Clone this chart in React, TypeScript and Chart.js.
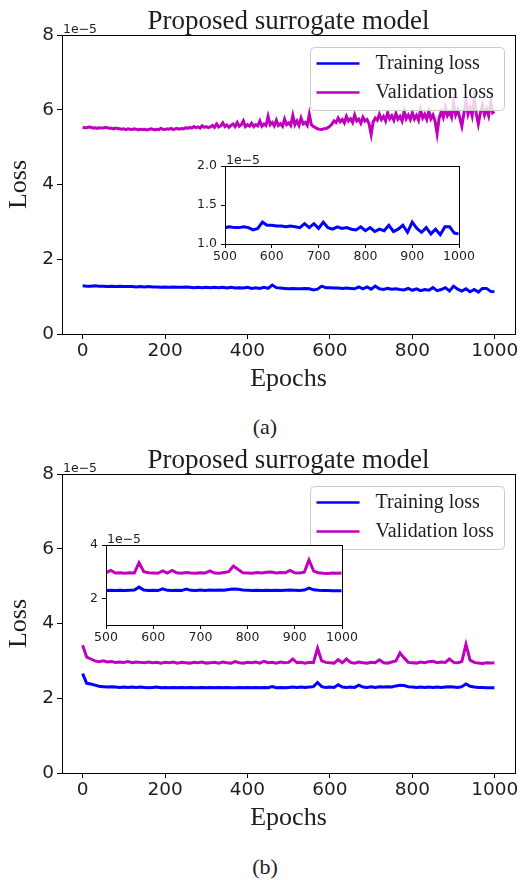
import React, { useEffect, useRef } from 'react';
import { Chart, registerables } from 'chart.js';

Chart.register(...registerables);

// ---------- data (loss values in units of 1e-5) ----------
const epochs = [
  0, 10, 20, 30, 40, 50, 60, 70, 80, 90,
  100, 110, 120, 130, 140, 150, 160, 170, 180, 190,
  200, 210, 220, 230, 240, 250, 260, 270, 280, 290,
  300, 310, 320, 330, 340, 350, 360, 370, 380, 390,
  400, 410, 420, 430, 440, 450, 460, 470, 480, 490,
  500, 510, 520, 530, 540, 550, 560, 570, 580, 590,
  600, 610, 620, 630, 640, 650, 660, 670, 680, 690,
  700, 710, 720, 730, 740, 750, 760, 770, 780, 790,
  800, 810, 820, 830, 840, 850, 860, 870, 880, 890,
  900, 910, 920, 930, 940, 950, 960, 970, 980, 990,
  999,
];

// finer epoch grid used for the noisy validation curve of panel (a)
const epochsFine = [
  0, 5, 10, 15, 20, 25, 30, 35, 40, 45,
  50, 55, 60, 65, 70, 75, 80, 85, 90, 95,
  100, 105, 110, 115, 120, 125, 130, 135, 140, 145,
  150, 155, 160, 165, 170, 175, 180, 185, 190, 195,
  200, 205, 210, 215, 220, 225, 230, 235, 240, 245,
  250, 255, 260, 265, 270, 275, 280, 285, 290, 295,
  300, 305, 310, 315, 320, 325, 330, 335, 340, 345,
  350, 355, 360, 365, 370, 375, 380, 385, 390, 395,
  400, 405, 410, 415, 420, 425, 430, 435, 440, 445,
  450, 455, 460, 465, 470, 475, 480, 485, 490, 495,
  500, 505, 510, 515, 520, 525, 530, 535, 540, 545,
  550, 555, 560, 565, 570, 575, 580, 585, 590, 595,
  600, 605, 610, 615, 620, 625, 630, 635, 640, 645,
  650, 655, 660, 665, 670, 675, 680, 685, 690, 695,
  700, 705, 710, 715, 720, 725, 730, 735, 740, 745,
  750, 755, 760, 765, 770, 775, 780, 785, 790, 795,
  800, 805, 810, 815, 820, 825, 830, 835, 840, 845,
  850, 855, 860, 865, 870, 875, 880, 885, 890, 895,
  900, 905, 910, 915, 920, 925, 930, 935, 940, 945,
  950, 955, 960, 965, 970, 975, 980, 985, 990, 995,
  999,
];

const trainLossA = [
  1.29, 1.28, 1.28, 1.29, 1.28, 1.28, 1.27, 1.28, 1.27, 1.28,
  1.27, 1.27, 1.27, 1.26, 1.27, 1.26, 1.27, 1.26, 1.26, 1.25,
  1.26, 1.25, 1.26, 1.25, 1.25, 1.26, 1.25, 1.24, 1.25, 1.24,
  1.25, 1.24, 1.25, 1.24, 1.25, 1.23, 1.25, 1.23, 1.24, 1.23,
  1.25, 1.22, 1.24, 1.22, 1.25, 1.22, 1.31, 1.24, 1.23, 1.22,
  1.21, 1.22, 1.21, 1.21, 1.22, 1.21, 1.18, 1.20, 1.28, 1.24,
  1.24, 1.23, 1.23, 1.22, 1.23, 1.22, 1.21, 1.26, 1.21, 1.26,
  1.20, 1.28, 1.21, 1.19, 1.22, 1.20, 1.21, 1.19, 1.18, 1.22,
  1.17, 1.21, 1.16, 1.19, 1.17, 1.24, 1.16, 1.19, 1.24, 1.15,
  1.28, 1.20, 1.15, 1.21, 1.13, 1.19, 1.12, 1.22, 1.22, 1.14,
  1.13,
];

const valLossA = [
  5.53, 5.52, 5.52, 5.54, 5.53, 5.51, 5.52, 5.50, 5.52, 5.51,
  5.51, 5.53, 5.52, 5.50, 5.51, 5.49, 5.51, 5.50, 5.49, 5.48,
  5.49, 5.47, 5.49, 5.48, 5.47, 5.49, 5.48, 5.46, 5.48, 5.47,
  5.48, 5.46, 5.47, 5.49, 5.48, 5.46, 5.48, 5.47, 5.50, 5.48,
  5.47, 5.49, 5.48, 5.50, 5.47, 5.49, 5.50, 5.48, 5.50, 5.49,
  5.52, 5.50, 5.53, 5.51, 5.55, 5.52, 5.54, 5.51, 5.57, 5.53,
  5.55, 5.52, 5.54, 5.58, 5.53, 5.62, 5.54, 5.57, 5.65, 5.55,
  5.59, 5.53, 5.58, 5.62, 5.55, 5.66, 5.56, 5.60, 5.70, 5.55,
  5.60, 5.56, 5.64, 5.55, 5.60, 5.57, 5.70, 5.56, 5.62, 5.58,
  5.82, 5.60, 5.66, 5.57, 5.72, 5.58, 5.63, 5.56, 5.75, 5.60,
  5.65, 5.58, 5.85, 5.60, 5.70, 5.58, 5.78, 5.62, 5.66, 5.58,
  5.88, 5.60, 5.55, 5.52, 5.49, 5.48, 5.47, 5.49, 5.50, 5.52,
  5.56, 5.62, 5.70, 5.66, 5.78, 5.68, 5.74, 5.65, 5.82, 5.70,
  5.76, 5.66, 5.86, 5.70, 5.75, 5.64, 5.80, 5.70, 5.74, 5.62,
  5.34, 5.68, 5.78, 5.72, 5.88, 5.74, 5.82, 5.70, 5.92, 5.76,
  5.84, 5.72, 5.90, 5.75, 5.82, 5.70, 5.96, 5.76, 5.86, 5.74,
  5.92, 5.75, 5.85, 5.72, 6.00, 5.78, 5.88, 5.74, 5.96, 5.76,
  5.86, 5.70, 5.36, 5.78, 5.95, 5.80, 6.06, 5.84, 5.94, 5.80,
  6.18, 5.86, 6.00, 5.78, 5.56, 5.90, 6.22, 5.88, 6.05, 5.84,
  6.28, 5.90, 5.62, 5.92, 6.12, 5.86, 6.02, 5.84, 6.20, 5.92,
  5.95,
];

const trainLossB = [
  2.66, 2.40, 2.38, 2.35, 2.32, 2.31, 2.30, 2.31, 2.30, 2.29,
  2.30, 2.29, 2.30, 2.29, 2.30, 2.29, 2.28, 2.29, 2.30, 2.28,
  2.29, 2.28, 2.29, 2.28, 2.29, 2.28, 2.29, 2.28, 2.28, 2.29,
  2.28, 2.29, 2.28, 2.29, 2.28, 2.29, 2.28, 2.28, 2.29, 2.28,
  2.29, 2.28, 2.29, 2.28, 2.29, 2.28, 2.31, 2.28, 2.29, 2.28,
  2.29, 2.30, 2.29, 2.30, 2.29, 2.30, 2.31, 2.42, 2.31, 2.29,
  2.30, 2.29, 2.36, 2.30, 2.29, 2.30, 2.29, 2.35, 2.30, 2.29,
  2.31, 2.29, 2.31, 2.30, 2.31, 2.30, 2.33, 2.35, 2.34, 2.31,
  2.30, 2.29, 2.30, 2.29, 2.30, 2.29, 2.30, 2.29, 2.30, 2.31,
  2.30, 2.29, 2.31, 2.38, 2.32, 2.30, 2.29, 2.29, 2.28, 2.28,
  2.28,
];

const valLossB = [
  3.42, 3.10, 3.05, 3.00, 2.98, 3.00, 2.97, 2.98, 2.96, 2.97,
  2.96, 2.98, 2.95, 2.97, 2.96, 2.95, 2.97, 2.95, 2.96, 2.94,
  2.96, 2.95, 2.97, 2.94, 2.96, 2.95, 2.94, 2.96, 2.95, 2.97,
  2.94, 2.95, 2.96, 2.94, 2.97, 2.95, 2.94, 2.98, 2.95, 2.94,
  2.96, 2.95, 2.97, 2.94, 2.99, 2.95, 2.96, 2.94, 2.97, 2.95,
  2.96, 3.05, 2.95, 2.96, 2.94, 2.96, 2.95, 3.34, 3.00, 2.96,
  2.95, 2.94, 3.03, 2.95, 3.05, 2.96, 2.94, 2.97, 2.95, 2.94,
  2.96, 2.95, 3.03, 2.95, 2.94, 2.97, 3.00, 3.21, 3.08, 2.96,
  2.95, 2.94, 2.97, 2.95, 2.98, 2.99, 2.95, 2.97, 2.96, 3.05,
  2.96, 2.95, 2.98, 3.44, 3.02, 2.96, 2.94, 2.93, 2.95, 2.94,
  2.95,
];

const seriesLabels = ['Training loss', 'Validation loss'];
const chartTitle = 'Proposed surrogate model';
const xAxisTitle = 'Epochs';
const yAxisTitle = 'Loss';
const offsetLabel = '1e\u22125';
const panelLabels = ['(a)', '(b)'];

const mainXTicks = [0, 200, 400, 600, 800, 1000];
const mainYTicks = [0, 2, 4, 6, 8];
const insetXTicks = [500, 600, 700, 800, 900, 1000];
const insetYTicksA = [1.0, 1.5, 2.0];
const insetYTicksB = [2, 4];

// ---------- styling ----------
const SANS = "'DejaVu Sans', sans-serif";
const SERIF = "'Liberation Serif', 'Times New Roman', serif";
const INK = '#1e1e1e';
const TRAIN_COLOR = '#0000ff';
const VAL_COLOR = '#bf00bf';

const toPoints = (xs: number[], ys: number[]) => xs.map((x, i) => ({ x, y: ys[i] }));

const framePlugin = {
  id: 'frame',
  beforeDraw(chart: any, _args: any, opts: any) {
    if (!opts.fill) return;
    const { left, top, right, bottom } = chart.chartArea;
    const ctx = chart.ctx;
    ctx.save();
    ctx.fillStyle = '#ffffff';
    ctx.fillRect(left, top, right - left, bottom - top);
    ctx.restore();
  },
  afterDatasetsDraw(chart: any) {
    const { left, top, right, bottom } = chart.chartArea;
    const ctx = chart.ctx;
    ctx.save();
    ctx.strokeStyle = '#000000';
    ctx.lineWidth = 1;
    const l = Math.round(left) + 0.5;
    const t = Math.round(top) + 0.5;
    const r = Math.round(right) + 0.5;
    const b = Math.round(bottom) + 0.5;
    ctx.strokeRect(l, t, r - l, b - t);
    ctx.restore();
  },
  afterDraw(chart: any, _args: any, opts: any) {
    const { left, top, right } = chart.chartArea;
    const ctx = chart.ctx;
    ctx.save();
    // title centred over the plotting area
    if (opts.title) {
      ctx.fillStyle = INK;
      ctx.font = `27px ${SERIF}`;
      ctx.textAlign = 'center';
      ctx.textBaseline = 'alphabetic';
      ctx.fillText(opts.title, (left + right) / 2, top - 6.5);
    }
    // offset text (1e-5)
    ctx.fillStyle = INK;
    ctx.font = `${opts.offsetSize || 12.5}px ${SANS}`;
    ctx.textAlign = 'left';
    ctx.textBaseline = 'alphabetic';
    ctx.fillText(offsetLabel, left + 1, top - 2);
    if (opts.legend) {
      const bw = 194;
      const bh = 63;
      const bx = Math.round(right - 11 - bw) + 0.5;
      const by = Math.round(top + 12) + 0.5;
      const rr = 4;
      ctx.beginPath();
      ctx.moveTo(bx + rr, by);
      ctx.lineTo(bx + bw - rr, by);
      ctx.arcTo(bx + bw, by, bx + bw, by + rr, rr);
      ctx.lineTo(bx + bw, by + bh - rr);
      ctx.arcTo(bx + bw, by + bh, bx + bw - rr, by + bh, rr);
      ctx.lineTo(bx + rr, by + bh);
      ctx.arcTo(bx, by + bh, bx, by + bh - rr, rr);
      ctx.lineTo(bx, by + rr);
      ctx.arcTo(bx, by, bx + rr, by, rr);
      ctx.closePath();
      ctx.fillStyle = 'rgba(255,255,255,0.8)';
      ctx.fill();
      ctx.strokeStyle = '#cccccc';
      ctx.lineWidth = 1;
      ctx.stroke();
      chart.data.datasets.forEach((ds: any, i: number) => {
        const y = by + 16 + i * 29;
        ctx.beginPath();
        ctx.moveTo(bx + 6, y);
        ctx.lineTo(bx + 49, y);
        ctx.strokeStyle = ds.borderColor;
        ctx.lineWidth = 2.5;
        ctx.stroke();
        ctx.fillStyle = INK;
        ctx.font = `20px ${SERIF}`;
        ctx.textAlign = 'left';
        ctx.textBaseline = 'middle';
        ctx.fillText(ds.label, bx + 65, y + 0.5);
      });
    }
    ctx.restore();
  },
};

function datasets(train: number[], val: number[], valXs: number[], width: number) {
  return [
    {
      label: seriesLabels[0],
      data: toPoints(epochs, train),
      borderColor: TRAIN_COLOR,
      backgroundColor: TRAIN_COLOR,
      borderWidth: width,
      pointRadius: 0,
      tension: 0,
    },
    {
      label: seriesLabels[1],
      data: toPoints(valXs, val),
      borderColor: VAL_COLOR,
      backgroundColor: VAL_COLOR,
      borderWidth: width,
      pointRadius: 0,
      tension: 0,
    },
  ];
}

function mainConfig(train: number[], val: number[], valXs: number[]) {
  return {
    type: 'line',
    data: { datasets: datasets(train, val, valXs, 3) },
    plugins: [framePlugin],
    options: {
      responsive: false,
      animation: false,
      events: [],
      layout: { padding: { left: 0, right: 13, top: 35, bottom: 0 } },
      plugins: {
        legend: { display: false },
        tooltip: { enabled: false },
        title: { display: false },
        frame: { legend: true, fill: false, offsetSize: 12.5, title: chartTitle },
      },
      scales: {
        x: {
          type: 'linear',
          min: -50,
          max: 1049,
          afterBuildTicks: (s: any) => {
            s.ticks = mainXTicks.map((v) => ({ value: v }));
          },
          afterFit: (s: any) => {
            s.height = 66;
            s.paddingLeft = 0;
            s.paddingRight = 0;
          },
          ticks: {
            autoSkip: false,
            maxRotation: 0,
            padding: 1,
            color: INK,
            font: { family: SANS, size: 18.5 },
            callback: (v: any) => String(v),
          },
          grid: { drawOnChartArea: false, drawTicks: true, tickLength: 5, color: '#000' },
          border: { display: false },
          title: {
            display: true,
            text: xAxisTitle,
            color: INK,
            font: { family: SERIF, size: 26, lineHeight: 1.2 },
            padding: { top: 0, bottom: 5 },
          },
        },
        y: {
          type: 'linear',
          min: 0,
          max: 8,
          afterBuildTicks: (s: any) => {
            s.ticks = mainYTicks.map((v) => ({ value: v }));
          },
          afterFit: (s: any) => {
            s.width = 62;
            s.paddingTop = 0;
            s.paddingBottom = 0;
          },
          ticks: {
            autoSkip: false,
            padding: 3,
            color: INK,
            font: { family: SANS, size: 18.5 },
            callback: (v: any) => String(v),
          },
          grid: { drawOnChartArea: false, drawTicks: true, tickLength: 5, color: '#000' },
          border: { display: false },
          title: {
            display: true,
            text: yAxisTitle,
            color: INK,
            font: { family: SERIF, size: 26, lineHeight: 1.2 },
            padding: { top: 4, bottom: 0 },
          },
        },
      },
    },
  };
}

function insetConfig(
  train: number[],
  val: number[] | null,
  yMin: number,
  yMax: number,
  yTicks: number[],
  yDigits: number,
  yWidth: number,
  xHeight: number,
  padRight: number,
) {
  const ds = datasets(train, val || [], epochs, 3);
  return {
    type: 'line',
    data: { datasets: val ? ds : [ds[0]] },
    plugins: [framePlugin],
    options: {
      responsive: false,
      animation: false,
      events: [],
      layout: { padding: { left: 0, right: padRight, top: 20, bottom: 0 } },
      plugins: {
        legend: { display: false },
        tooltip: { enabled: false },
        title: { display: false },
        frame: { legend: false, fill: true, offsetSize: 12.5 },
      },
      scales: {
        x: {
          type: 'linear',
          min: 500,
          max: 1000,
          afterBuildTicks: (s: any) => {
            s.ticks = insetXTicks.map((v) => ({ value: v }));
          },
          afterFit: (s: any) => {
            s.height = xHeight;
            s.paddingLeft = 0;
            s.paddingRight = 0;
          },
          ticks: {
            autoSkip: false,
            maxRotation: 0,
            padding: 1,
            color: INK,
            font: { family: SANS, size: 12.5 },
            callback: (v: any) => String(v),
          },
          grid: { drawOnChartArea: false, drawTicks: true, tickLength: 4, color: '#000' },
          border: { display: false },
        },
        y: {
          type: 'linear',
          min: yMin,
          max: yMax,
          afterBuildTicks: (s: any) => {
            s.ticks = yTicks.map((v) => ({ value: v }));
          },
          afterFit: (s: any) => {
            s.width = yWidth;
            s.paddingTop = 0;
            s.paddingBottom = 0;
          },
          ticks: {
            autoSkip: false,
            padding: 4,
            color: INK,
            font: { family: SANS, size: 12.5 },
            callback: (v: any) => Number(v).toFixed(yDigits),
          },
          grid: { drawOnChartArea: false, drawTicks: true, tickLength: 4, color: '#000' },
          border: { display: false },
        },
      },
    },
  };
}

function ChartBox({
  left,
  top,
  width,
  height,
  make,
}: {
  left: number;
  top: number;
  width: number;
  height: number;
  make: () => any;
}) {
  const ref = useRef<HTMLCanvasElement | null>(null);
  useEffect(() => {
    if (!ref.current) return;
    const chart = new Chart(ref.current, make());
    return () => chart.destroy();
  }, []);
  return (
    <div style={{ position: 'absolute', left, top, width, height }}>
      <canvas ref={ref} width={width} height={height} style={{ display: 'block', width, height }} />
    </div>
  );
}

export default function App() {
  const labelStyle: React.CSSProperties = {
    position: 'absolute',
    left: 0,
    width: 530,
    textAlign: 'center',
    fontFamily: SERIF,
    fontSize: 22,
    lineHeight: '26px',
    color: INK,
  };
  return (
    <div style={{ position: 'absolute', left: 0, top: 0, width: 528, height: 880, background: '#fff', overflow: 'hidden' }}>
      <ChartBox left={0} top={0} width={528} height={400} make={() => mainConfig(trainLossA, valLossA, epochsFine)} />
      <ChartBox
        left={180}
        top={146}
        width={300}
        height={124}
        make={() => insetConfig(trainLossA, null, 1.0, 2.0, insetYTicksA, 1, 45, 26, 21)}
      />
      <div style={{ ...labelStyle, top: 414 }}>{panelLabels[0]}</div>
      <ChartBox left={0} top={439} width={528} height={400} make={() => mainConfig(trainLossB, valLossB, epochs)} />
      <ChartBox
        left={60}
        top={525}
        width={300}
        height={126}
        make={() => insetConfig(trainLossB, valLossB, 1, 4, insetYTicksB, 0, 46, 26, 18)}
      />
      <div style={{ ...labelStyle, top: 854 }}>{panelLabels[1]}</div>
    </div>
  );
}
